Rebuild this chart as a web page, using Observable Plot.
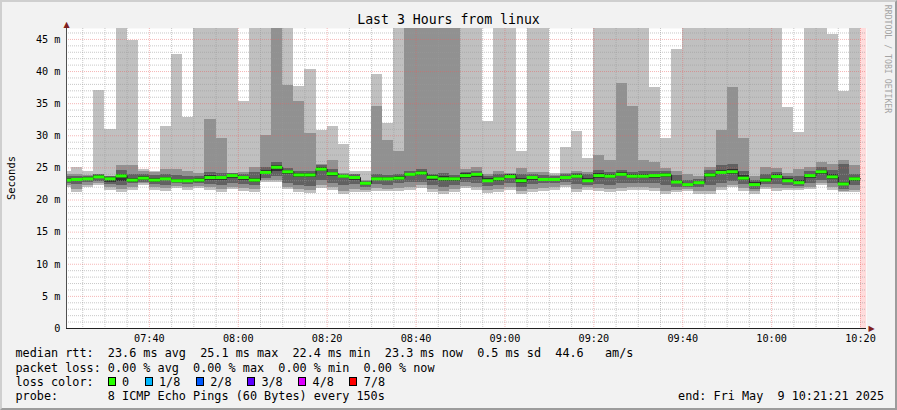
<!DOCTYPE html>
<html><head><meta charset="utf-8">
<script src="https://cdn.jsdelivr.net/npm/d3@7"></script>
<script src="https://cdn.jsdelivr.net/npm/@observablehq/plot@0.6"></script>
<style>
html,body{margin:0;padding:0;background:#f2f2f2;}
#wrap{position:relative;width:897px;height:410px;background:#f2f2f2;overflow:hidden;font-family:"DejaVu Sans Mono",monospace;color:#000;}
#frame{position:absolute;left:0;top:0;width:897px;height:410px;box-sizing:border-box;border-top:2px solid #cfcfcf;border-left:2px solid #cfcfcf;border-right:2px solid #9c9c9c;border-bottom:2px solid #9c9c9c;pointer-events:none;}
#chart{position:absolute;left:0;top:0;}
#title{position:absolute;left:0;width:897px;top:12.8px;text-align:center;font-size:13.2px;line-height:13.2px;white-space:pre;}
#ylab{position:absolute;left:11px;top:178px;transform:translate(-50%,-50%) rotate(-90deg);font-size:10.4px;line-height:10.4px;white-space:pre;}
#wm{position:absolute;left:888px;top:59px;transform:translate(-50%,-50%) rotate(90deg);font-size:8.2px;line-height:8.2px;white-space:pre;color:#a4a4a4;}
.lg{position:absolute;font-size:11.8px;line-height:14.2px;white-space:pre;}
.sq{position:absolute;box-sizing:border-box;width:8px;height:9px;border:1px solid #000;}
#end{position:absolute;right:13px;top:388.9px;font-size:11.8px;line-height:14.2px;white-space:pre;}
</style>
</head><body>
<div id="wrap">
  <div id="chart"></div>
  <div id="title">Last 3 Hours from linux</div>
  <div id="ylab">Seconds</div>
  <div id="wm">RRDTOOL / TOBI OETIKER</div>
  <div id="legend"></div>
  <div id="end"></div>
  <div id="frame"></div>
</div>
<script>
// ---- time frame ----
const startTime = new Date("2025-05-09T07:21:21Z");
const endTime = new Date("2025-05-09T10:21:21Z");
const firstStepEnd = new Date("2025-05-09T07:22:30Z");
const lastStepEnd = new Date("2025-05-09T10:20:00Z");
const stepSeconds = 150;

// ---- sorted ping RTTs per 150 s step (ms), p1 = fastest ... p8 = slowest ----
const p1 = [22.0,21.1,22.0,22.2,21.5,21.2,21.5,22.2,21.5,21.3,21.8,21.5,21.8,21.5,21.2,21.6,21.3,21.2,22.7,22.7,21.6,21.1,21.0,21.8,21.5,20.8,21.2,
  21.1,21.4,21.3,21.4,21.5,21.8,21.2,20.9,21.1,21.8,21.5,21.0,21.1,21.5,20.8,21.2,21.4,21.5,22.0,21.2,21.5,21.4,21.2,21.4,21.5,21.5,21.4,
  20.9,21.1,21.4,20.8,20.8,21.5,22.0,21.4,20.9,21.7,21.4,21.5,21.5,21.7,22.2,21.5,21.1,21.1];
const p2 = [22.3,21.6,22.3,22.5,21.9,21.7,21.9,22.5,21.9,21.8,22.1,21.9,22.1,21.9,21.7,22.0,21.8,21.7,23.0,23.1,22.0,21.6,21.5,22.2,21.9,21.3,21.6,
  21.5,21.8,21.7,21.8,21.9,22.2,21.6,21.4,21.6,22.1,21.9,21.5,21.6,21.9,21.3,21.6,21.8,21.9,22.3,21.6,21.9,21.8,21.6,21.8,21.9,21.9,21.8,
  21.4,21.5,21.7,21.3,21.4,21.9,22.3,21.8,21.3,22.0,21.8,21.8,21.8,22.0,22.5,21.9,21.4,21.5];
const p3 = [22.6,22.4,22.7,22.9,22.4,22.3,22.5,22.8,22.4,22.3,22.5,22.4,22.5,22.4,22.3,22.6,22.4,22.3,23.4,23.6,22.6,22.2,22.1,23.0,22.6,22.2,22.4,
  22.0,22.4,22.3,22.6,22.7,22.8,22.3,22.0,22.2,22.7,22.5,22.1,22.3,22.6,22.0,22.4,22.5,22.5,22.8,22.4,22.3,22.4,22.3,22.5,22.5,22.6,22.5,
  22.2,21.9,22.0,21.9,22.3,22.6,22.9,22.4,21.7,22.4,22.4,22.3,22.1,22.6,23.1,22.6,21.7,22.2];
const p4 = [22.9,22.9,23.0,23.3,22.8,22.9,22.8,23.1,22.8,23.0,22.8,22.8,22.8,23.1,23.1,23.4,23.0,22.8,23.9,24.4,23.9,23.5,23.5,24.4,23.7,23.3,23.1,
  22.3,23.0,23.0,23.1,23.6,23.8,23.1,22.9,22.9,23.4,23.5,22.7,22.9,23.3,22.6,23.1,22.9,22.9,23.2,23.4,22.7,23.3,23.3,23.6,23.3,23.3,23.4,
  23.5,22.5,22.2,22.4,23.5,23.9,24.0,23.0,22.1,22.8,23.3,22.7,22.4,23.4,23.9,23.2,22.2,22.9];
const median = [23.1,23.2,23.3,23.6,23.3,23.75,23.1,23.4,23.1,23.3,23.0,23.0,23.1,23.5,23.5,23.8,23.5,23.1,24.3,25.1,24.4,23.9,23.9,24.8,24.1,23.7,23.5,
  22.6,23.3,23.3,23.4,24.0,24.2,23.55,23.3,23.3,23.8,24.0,23.0,23.3,23.65,23.0,23.5,23.2,23.2,23.5,23.7,23.0,23.8,23.7,24.0,23.7,23.7,23.8,
  23.9,22.8,22.4,22.7,23.9,24.3,24.4,23.4,22.4,23.1,23.65,23.0,22.7,23.8,24.4,23.6,22.5,23.3];
const p5 = [23.3,23.4,23.5,23.8,23.5,24.0,23.4,23.6,23.4,23.5,23.2,23.2,23.3,23.8,23.7,24.0,23.7,23.4,24.6,25.4,24.6,24.1,24.1,25.1,24.3,23.85,23.7,
  22.8,23.5,23.5,23.7,24.2,24.5,23.8,23.6,23.5,24.1,24.2,23.3,23.5,23.9,23.4,23.7,23.4,23.4,23.7,23.9,23.3,24.1,24.0,24.3,23.9,23.9,24.0,
  24.1,23.1,22.6,22.9,24.2,24.6,24.7,23.8,22.7,23.4,23.9,23.3,23.0,24.0,24.6,23.9,22.7,23.5];
const p6 = [23.6,23.7,23.6,23.9,23.6,24.6,24.0,23.9,23.8,24.0,23.8,23.7,23.6,24.3,24.1,24.1,23.9,24.3,25.0,25.8,24.9,24.5,24.5,25.3,24.8,23.95,23.9,
  22.9,23.9,23.8,24.0,24.5,24.8,24.0,24.1,23.8,24.3,24.5,23.6,23.9,24.0,24.0,24.0,23.8,23.6,23.9,24.1,23.9,24.6,24.3,24.6,24.3,24.5,24.4,
  24.4,23.8,23.0,23.2,24.6,25.3,25.5,24.4,23.1,24.0,24.3,23.7,23.7,24.4,25.0,24.6,25.5,24.0];
const p7 = [24.0,23.9,23.8,24.0,23.7,25.3,25.3,24.4,24.3,24.8,24.7,24.4,24.1,32.5,29.5,24.2,24.3,25.0,30.0,60,37.9,35.4,30.4,25.6,26.1,24.2,24.0,
  23.0,34.5,29.2,27.5,70,65,80,75,62,24.8,25.0,24.0,24.5,24.1,24.9,24.3,24.3,23.8,24.1,24.5,24.3,27.0,26.1,38.2,34.5,26.1,25.8,
  24.9,24.4,24.0,23.6,25.1,30.8,37.5,29.6,23.7,25.0,24.9,24.1,24.7,25.0,25.8,25.5,26.2,25.3];
const p8 = [24.5,25.0,24.4,37.1,30.9,58,44.9,24.7,24.5,31.4,42.6,32.9,61,55,70,52,35.3,64,57,75,66,37.6,40.3,30.8,31.5,28.6,24.5,
  24.5,39.5,31.9,53,80,90,85,78,68,59,62,32.3,54,57,27.5,60,51,24.1,28.2,30.7,26.5,55,63,58,66,52,37.5,
  29.6,43.5,54,61,57,64,69,60,53,58,50,34.4,30.5,56,59,45.7,36.9,55];

// ---- axis ----
const yMax = 46.7;
const yTicks = [0,5,10,15,20,25,30,35,40,45];

// ---- legend ----
const statsLines = [
  "median rtt:  23.6 ms avg  25.1 ms max  22.4 ms min  23.3 ms now  0.5 ms sd  44.6   am/s",
  "packet loss: 0.00 % avg  0.00 % max  0.00 % min  0.00 % now"
];
const lossTitle = "loss color:";
const lossLabels = ["0","1/8","2/8","3/8","4/8","7/8"];
const lossColors = ["#26ff00","#00b8ff","#0059ff","#5e00ff","#dd00ff","#ff0000"];
const probeLine = "probe:       8 ICMP Echo Pings (60 Bytes) every 150s";
const endLine = "end: Fri May  9 10:21:21 2025";

// ---- build table ----
const rows = median.map((m, i) => {
  const t2 = new Date(+firstStepEnd + i * stepSeconds * 1000);
  const t1 = new Date(+t2 - stepSeconds * 1000);
  return {t1, t2, p1: p1[i], p2: p2[i], p3: p3[i], p4: p4[i], med: m, p5: p5[i], p6: p6[i], p7: p7[i], p8: p8[i]};
});
const medPts = rows.flatMap(r => [{t: r.t1, v: r.med}, {t: r.t2, v: r.med}]);
const unknown = [{a: lastStepEnd, b: endTime}];

const minorX = d3.utcMinute.every(5).range(startTime, endTime).filter(d => d.getUTCMinutes() % 20 !== 0);
const majorX = d3.utcMinute.every(20).range(startTime, endTime);
const minorY = d3.range(1, 47).filter(v => v % 5 !== 0);
const majorY = d3.range(5, 47, 5);

const chart = Plot.plot({
  width: 897, height: 345,
  marginLeft: 66, marginRight: 31, marginTop: 28, marginBottom: 17,
  style: {background: "transparent", fontFamily: "DejaVu Sans Mono", fontSize: "10.2px", color: "#000", overflow: "visible"},
  x: {type: "utc", domain: [startTime, endTime], ticks: majorX, tickFormat: d3.utcFormat("%H:%M"), tickSize: 0, tickPadding: 6, label: null},
  y: {domain: [0, yMax], ticks: yTicks, tickFormat: d => d === 0 ? "0" : d + " m", tickSize: 0, tickPadding: 6, label: null},
  marks: [
    Plot.frame({fill: "#ffffff", stroke: "none"}),
    Plot.rect(rows, {x1: "t1", x2: "t2", y1: "p1", y2: "p8", fill: "#c0c0c0", clip: true, shapeRendering: "crispEdges"}),
    Plot.rect(rows, {x1: "t1", x2: "t2", y1: "p2", y2: "p7", fill: "#919191", clip: true, shapeRendering: "crispEdges"}),
    Plot.rect(rows, {x1: "t1", x2: "t2", y1: "p3", y2: "p6", fill: "#616161", clip: true, shapeRendering: "crispEdges"}),
    Plot.rect(rows, {x1: "t1", x2: "t2", y1: "p4", y2: "p5", fill: "#323232", clip: true, shapeRendering: "crispEdges"}),
    Plot.rect(unknown, {x1: "a", x2: "b", fill: "#ffdcdc", clip: true, shapeRendering: "crispEdges"}),
    Plot.ruleX(minorX, {stroke: "#9a9a9a", strokeOpacity: 0.55, strokeDasharray: "1,1"}),
    Plot.ruleY(minorY, {stroke: "#9a9a9a", strokeOpacity: 0.55, strokeDasharray: "1,1"}),
    Plot.ruleX(majorX, {stroke: "#e86060", strokeOpacity: 0.45, strokeDasharray: "1,1"}),
    Plot.ruleY(majorY, {stroke: "#e86060", strokeOpacity: 0.45, strokeDasharray: "1,1"}),
    Plot.line(medPts, {x: "t", y: "v", stroke: "#202020", strokeWidth: 1, clip: true}),
    Plot.ruleY(rows, {x1: "t1", x2: "t2", y: "med", stroke: "#26ff00", strokeWidth: 3, clip: true}),
    Plot.ruleX([startTime], {stroke: "#505050"}),
    Plot.ruleY([0], {stroke: "#202020"}),
    Plot.text(["▲"], {frameAnchor: "top-left", text: d => d, fill: "#802020", fontSize: 8, fontFamily: "DejaVu Sans", textAnchor: "middle", lineAnchor: "middle", dy: -4}),
    Plot.text(["▶"], {frameAnchor: "bottom-right", text: d => d, fill: "#802020", fontSize: 8, fontFamily: "DejaVu Sans", textAnchor: "middle", lineAnchor: "middle", dx: 5})
  ]
});
document.getElementById("chart").appendChild(chart);

// ---- legend layout (monospace character grid) ----
const lg = document.getElementById("legend");
const left0 = 15.5, top0 = 346.3, lineH = 14.2, charW = 7.1;
function addText(txt, x, y) {
  const d = document.createElement("div");
  d.className = "lg";
  d.style.left = x + "px";
  d.style.top = y + "px";
  d.textContent = txt;
  lg.appendChild(d);
}
addText(statsLines[0], left0, top0);
addText(statsLines[1], left0, top0 + lineH);
addText(lossTitle, left0, top0 + 2 * lineH);
let cx = left0 + 13 * charW - 0.3;
lossLabels.forEach((l, i) => {
  const s = document.createElement("div");
  s.className = "sq";
  s.style.left = cx + "px";
  s.style.top = (top0 + 2 * lineH + 2) + "px";
  s.style.background = lossColors[i];
  lg.appendChild(s);
  addText(l, cx + 14.5, top0 + 2 * lineH);
  cx += 14.5 + l.length * charW + 15.4;
});
addText(probeLine, left0, top0 + 3 * lineH);
document.getElementById("end").textContent = endLine;
</script>
</body></html>
